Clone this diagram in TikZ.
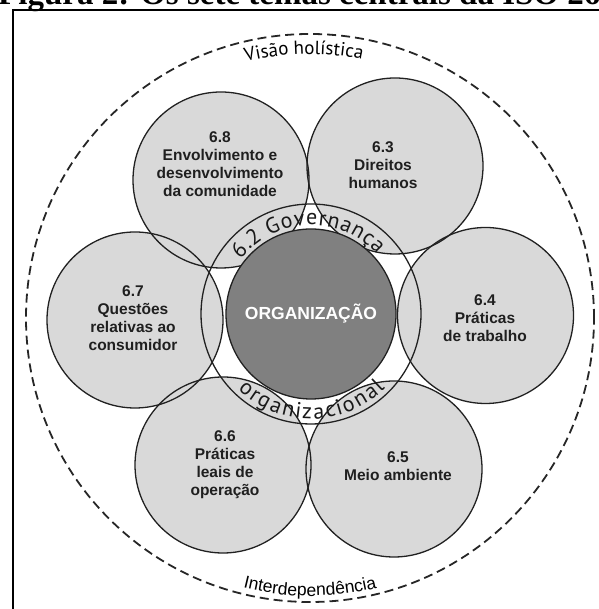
\documentclass[tikz,border=0pt]{standalone}
\usepackage{fontspec}
\setmainfont{Liberation Sans}
\newfontfamily\titlefont{Liberation Serif}
\newfontfamily\myriad{PT Sans}
\usetikzlibrary{decorations.text}
\definecolor{petalgray}{gray}{0.85}
\definecolor{orggray}{gray}{0.50}
\definecolor{linegray}{gray}{0.13}
\begin{document}
\begin{tikzpicture}[x=1pt,y=1pt,
  petal/.style={circle, fill=petalgray, minimum size=176pt, inner sep=0pt},
  outline/.style={draw=linegray, line width=1.3pt},
  lbl/.style={font=\bfseries\fontsize{15.5}{18}\selectfont, align=center, text=black!88, inner sep=0pt},
]
\begin{scope}
\clip (0,0) rectangle (598,609);
\node[anchor=base west, font=\titlefont\bfseries\fontsize{33}{33}\selectfont, inner sep=0pt] (title) at (-2,604) {Figura 2: Os sete temas centrais da ISO 26000};
\end{scope}
% centre
\coordinate (C) at (311,295);
\coordinate (D) at (310,291);
% petals (fills)
\node[petal] (p68) at (221,429) {};
\node[petal] (p63) at (395,443) {};
\node[petal] (p64) at (485.5,293.5) {};
\node[petal] (p67) at (135,289) {};
\node[petal] (p66) at (223,144) {};
\node[petal] (p65) at (394,140) {};
% outlines
\draw[outline] (C) circle[radius=110];
\foreach \p in {p68,p63,p64,p67,p66,p65}
  \draw[outline] (\p.center) circle[radius=88];
% organisation
\node[circle, fill=orggray, draw=linegray, line width=1.3pt, minimum size=170pt, inner sep=0pt,
      text=white, font=\bfseries\fontsize{17.5}{18}\selectfont] (org) at (C) {ORGANIZAÇÃO};
% labels
\node[lbl] (t68) at (220,445) {6.8\\Envolvimento e\\desenvolvimento\\da comunidade};
\node[lbl] (t63) at (383,444) {6.3\\Direitos\\humanos};
\node[lbl] (t64) at (485,291) {6.4\\Práticas\\de trabalho};
\node[lbl] (t67) at (133,291) {6.7\\Questões\\relativas ao\\consumidor};
\node[lbl] (t66) at (225,144) {6.6\\Práticas\\leais de\\operação};
\node[lbl] (t65) at (398,143) {6.5\\Meio ambiente};
% curved ring texts
\path[decoration={text effects along path, text={6.2 Governança},
   text effects/.cd, text along path, fit text to path,
   characters={font=\myriad\fontsize{22}{22}\selectfont, text=black!90}}, decorate]
   (C) ++(142:89) arc[start angle=142, end angle=42, radius=89];
\path[decoration={text effects along path, text={organizacional},
   text effects/.cd, text along path, fit text to path,
   characters={font=\myriad\fontsize{22}{22}\selectfont, text=black!90}}, decorate]
   (C) ++(226:105) arc[start angle=226, end angle=315, radius=105];
% outer texts
\path[decoration={text along path, text align=center,
   text={|\myriad\fontsize{19}{19}\selectfont|Visão holística}}, decorate]
   (D) ++(121.3:264) arc[start angle=121.3, end angle=61.3, radius=264];
\path[decoration={text along path, text align=center,
   text={|\fontsize{17.5}{17.5}\selectfont|Interdependência}}, decorate]
   (D) ++(240:278) arc[start angle=240, end angle=300, radius=278];
% dashed circle
\draw[draw=black!85, line width=1.8pt, dash pattern=on 9pt off 5pt] (D) circle[radius=284];
% frame
\draw[line width=2.3pt] (13,-5) -- (13,599) -- (610,599);
\pgfresetboundingbox
\useasboundingbox (0,0) rectangle (598,609);
\end{tikzpicture}
\end{document}
